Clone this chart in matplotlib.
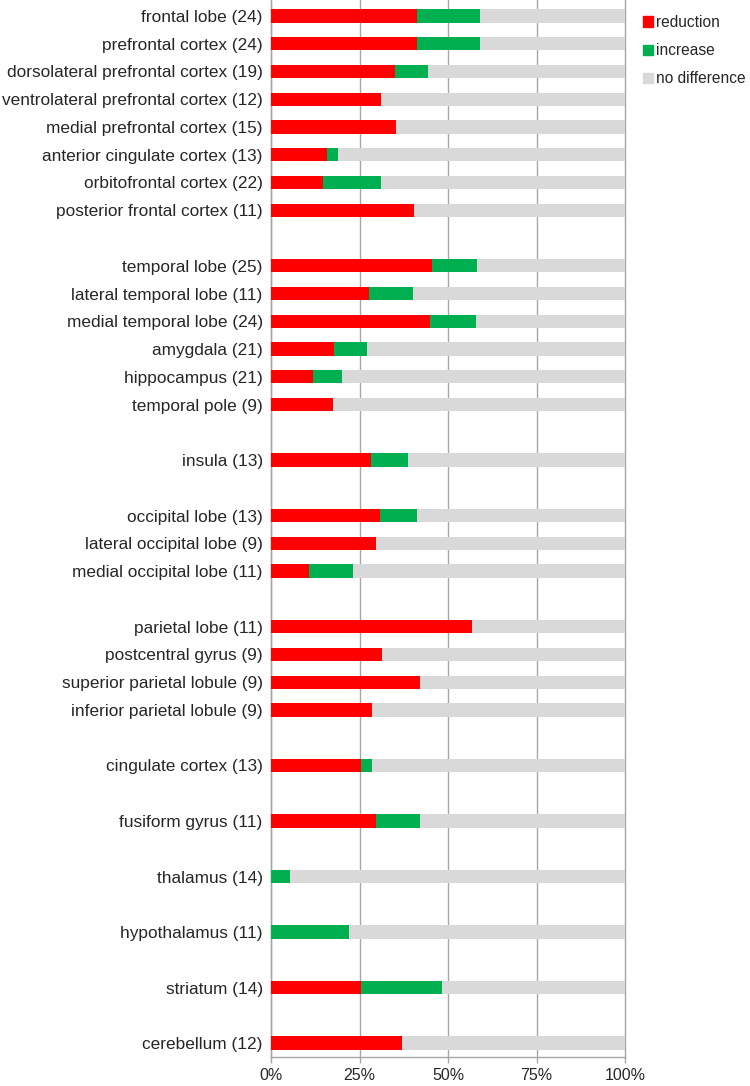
import matplotlib
matplotlib.use("Agg")
import matplotlib.pyplot as plt
from matplotlib.patches import Patch

# brain regions, top to bottom; empty strings are spacer rows between groups
regions = [
    "frontal lobe (24)", "prefrontal cortex (24)", "dorsolateral prefrontal cortex (19)",
    "ventrolateral prefrontal cortex (12)", "medial prefrontal cortex (15)",
    "anterior cingulate cortex (13)", "orbitofrontal cortex (22)", "posterior frontal cortex (11)",
    "",
    "temporal lobe (25)", "lateral temporal lobe (11)", "medial temporal lobe (24)",
    "amygdala (21)", "hippocampus (21)", "temporal pole (9)",
    "",
    "insula (13)",
    "",
    "occipital lobe (13)", "lateral occipital lobe (9)", "medial occipital lobe (11)",
    "",
    "parietal lobe (11)", "postcentral gyrus (9)", "superior parietal lobule (9)",
    "inferior parietal lobule (9)",
    "",
    "cingulate cortex (13)",
    "",
    "fusiform gyrus (11)",
    "",
    "thalamus (14)",
    "",
    "hypothalamus (11)",
    "",
    "striatum (14)",
    "",
    "cerebellum (12)",
]

# percent of studies (None for spacer rows)
reduction = [
    41.3, 41.3, 35.1, 31.0, 35.4, 15.7, 14.6, 40.4,
    None,
    45.5, 27.8, 44.8, 17.9, 12.0, 17.4,
    None,
    28.2,
    None,
    30.8, 29.7, 10.7,
    None,
    56.8, 31.4, 42.2, 28.6,
    None,
    25.4,
    None,
    29.7,
    None,
    0.0,
    None,
    0.0,
    None,
    25.4,
    None,
    37.0,
]
increase = [
    17.8, 17.8, 9.2, 0.0, 0.0, 3.1, 16.4, 0.0,
    None,
    12.7, 12.4, 13.2, 9.2, 8.1, 0.0,
    None,
    10.4,
    None,
    10.5, 0.0, 12.4,
    None,
    0.0, 0.0, 0.0, 0.0,
    None,
    3.1,
    None,
    12.4,
    None,
    5.5,
    None,
    22.1,
    None,
    22.9,
    None,
    0.0,
]

legend_labels = ["reduction", "increase", "no difference"]
xticks = [0, 25, 50, 75, 100]
xticklabels = ["0%", "25%", "50%", "75%", "100%"]

RED = "#FF0000"
GREEN = "#00B050"
GREY = "#D9D9D9"
GRID = "#A6A6A6"
TEXT = "#262626"

plt.rcParams["font.family"] = ["Liberation Sans", "DejaVu Sans"]

fig = plt.figure(figsize=(7.5, 10.86), dpi=100)
ax = fig.add_axes([271 / 750, (1086 - 1057) / 1086, 354 / 750, 1055 / 1086])

ypos = list(range(len(regions)))
bar_h = 0.48
for y, r, i in zip(ypos, reduction, increase):
    if r is None:
        continue
    nd = 100 - r - i
    ax.barh(y, r, height=bar_h, color=RED, left=0, zorder=3)
    ax.barh(y, i, height=bar_h, color=GREEN, left=r, zorder=3)
    ax.barh(y, nd, height=bar_h, color=GREY, left=r + i, zorder=3)

ax.set_ylim(len(regions) - 0.5, -0.5)
ax.set_xlim(0, 100)
ax.set_yticks(ypos)
ax.set_yticklabels(regions, fontsize=12.4, color=TEXT)
ax.tick_params(axis="y", length=0, pad=6)
ax.set_xticks(xticks)
ax.set_xticklabels(xticklabels, fontsize=11.5, color=TEXT)
ax.tick_params(axis="x", length=4, color=GRID, width=1.0, pad=4)

# vertical gridlines run up to the top edge
for x in xticks:
    ax.axvline(x, color=GRID, lw=1.0, zorder=1, ymin=0, ymax=1.01, clip_on=False)

for side in ["top", "right"]:
    ax.spines[side].set_visible(False)
ax.spines["left"].set_color(GRID)
ax.spines["left"].set_linewidth(1.0)
ax.spines["bottom"].set_color(GRID)
ax.spines["bottom"].set_linewidth(1.0)

handles = [Patch(color=c) for c in (RED, GREEN, GREY)]
fig.legend(handles, legend_labels, loc="upper left", bbox_to_anchor=(643 / 750, 1 - 15 / 1086),
           frameon=False, fontsize=11.2, handlelength=0.65, handleheight=0.65,
           handletextpad=0.2, labelspacing=0.85, borderaxespad=0, borderpad=0,
           labelcolor=TEXT)

fig.savefig("out.png", dpi=100)
